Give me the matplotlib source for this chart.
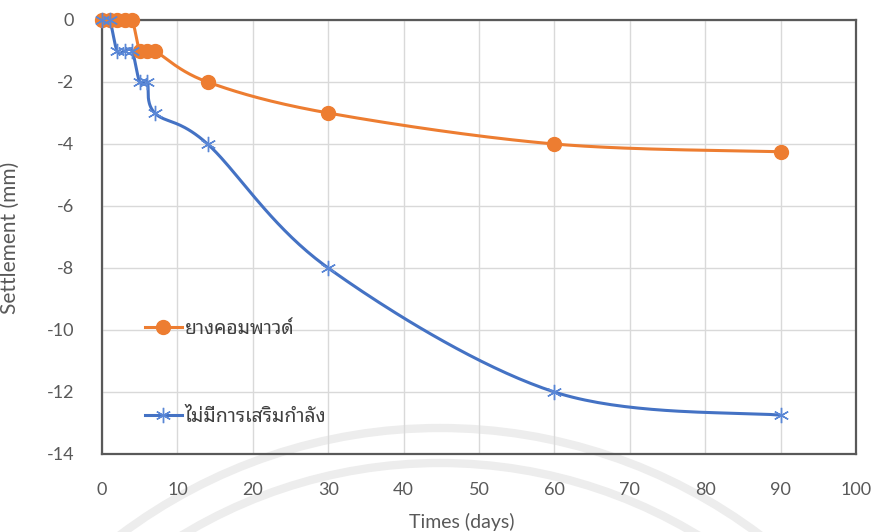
import numpy as np
import matplotlib
matplotlib.use("Agg")
import matplotlib.pyplot as plt
from matplotlib.lines import Line2D
from matplotlib.patches import Arc

plt.rcParams["axes.unicode_minus"] = False

# วันที่วัด (days) และค่าการทรุดตัว (mm)
days = [0, 1, 2, 3, 4, 5, 6, 7, 14, 30, 60, 90]
settle_compound = [0, 0, 0, 0, 0, -1, -1, -1, -2, -3, -4, -4.25]
settle_none = [0, 0, -1, -1, -1, -2, -2, -3, -4, -8, -12, -12.75]

label_compound = "ยางคอมพาวด์"
label_none = "ไม่มีการเสริมกำลัง"

xticks = list(range(0, 101, 10))
yticks = list(range(-14, 1, 2))

orange = "#ED7D31"
blue = "#4472C4"
star_blue = "#5a87d6"
txt = "#595959"
latin = ["Lato", "DejaVu Sans"]
thai = ["Noto Sans Thai Looped", "DejaVu Sans"]


def smooth(x, y, n=40):
    # เส้นโค้งแบบ Excel: Bezier ผ่านทุกจุด (Catmull-Rom, tension 1/6)
    x = np.asarray(x, float)
    y = np.asarray(y, float)
    px = np.r_[x[0], x, x[-1]]
    py = np.r_[y[0], y, y[-1]]
    t = np.linspace(0, 1, n)[:, None]
    out = []
    for i in range(len(x) - 1):
        p0 = np.array([px[i], py[i]])
        p1 = np.array([px[i + 1], py[i + 1]])
        p2 = np.array([px[i + 2], py[i + 2]])
        p3 = np.array([px[i + 3], py[i + 3]])
        c1 = p1 + (p2 - p0) / 6
        c2 = p2 - (p3 - p1) / 6
        seg = ((1 - t) ** 3) * p1 + 3 * ((1 - t) ** 2) * t * c1 + 3 * (1 - t) * t ** 2 * c2 + t ** 3 * p2
        out.append(seg if i == 0 else seg[1:])
    out = np.vstack(out)
    return out[:, 0], out[:, 1]


fig = plt.figure(figsize=(8.74, 5.32), dpi=100)
ax = fig.add_axes([102 / 874, 1 - 454 / 532, 754 / 874, 434 / 532])
ax.patch.set_alpha(0)

# ลายน้ำจาง ๆ ด้านล่าง
for r in (532, 497):
    fig.add_artist(Arc((440 / 874, -428 / 532), 2 * r / 874, 2 * r / 532,
                       theta1=25, theta2=155, transform=fig.transFigure,
                       color="#ededed", lw=6, zorder=-1))

sx, sy = smooth(days, settle_compound)
ax.plot(sx, sy, color=orange, lw=2.2, zorder=3, solid_capstyle="round", clip_on=False)
ax.plot(days, settle_compound, ls="none", marker="o", ms=10, color=orange, zorder=4,
        clip_on=False)

sx, sy = smooth(days, settle_none)
ax.plot(sx, sy, color=blue, lw=2.2, zorder=3, solid_capstyle="round", clip_on=False)
ax.plot(days, settle_none, ls="none", marker=(6, 2, 0), ms=11, mew=1.0,
        color=star_blue, zorder=4, clip_on=False)

ax.set_xlim(0, 100)
ax.set_ylim(-14, 0)
ax.set_xticks(xticks)
ax.set_yticks(yticks)
ax.grid(True, color="#d9d9d9", lw=1)
ax.set_axisbelow(True)
ax.tick_params(length=0, labelsize=13, colors=txt)
ax.tick_params(axis="x", pad=20)
ax.tick_params(axis="y", pad=20)
for lab in ax.get_xticklabels() + ax.get_yticklabels():
    lab.set_family(latin)
for s in ax.spines.values():
    s.set_color("#595959")
    s.set_linewidth(1.6)

ax.set_xlabel("Times (days)", fontsize=14, family=latin, color=txt)
ax.set_ylabel("Settlement (mm)", fontsize=15, family=latin, color=txt)
ax.xaxis.set_label_coords(0.477, -0.135)
ax.yaxis.set_label_coords(-0.109, 0.497)

# คำอธิบายสัญลักษณ์ แยกเป็นสองชุด
h1 = Line2D([], [], color=orange, lw=2.2, marker="o", ms=10)
h2 = Line2D([], [], color=blue, lw=2.2, marker=(6, 2, 0), ms=11, mew=1.0,
            markeredgecolor=star_blue)
leg_prop = {"family": thai, "size": 14, "weight": "light"}
leg1 = ax.legend([h1], [label_compound], loc="center left", bbox_to_anchor=(0.057, 0.288),
                 frameon=False, borderpad=0, borderaxespad=0, handlelength=1.9,
                 handletextpad=0.15, prop=leg_prop, labelcolor="#404040")
ax.add_artist(leg1)
ax.legend([h2], [label_none], loc="center left", bbox_to_anchor=(0.057, 0.085),
          frameon=False, borderpad=0, borderaxespad=0, handlelength=1.9,
          handletextpad=0.15, prop=leg_prop, labelcolor="#404040")

fig.savefig("out.png", dpi=100)
